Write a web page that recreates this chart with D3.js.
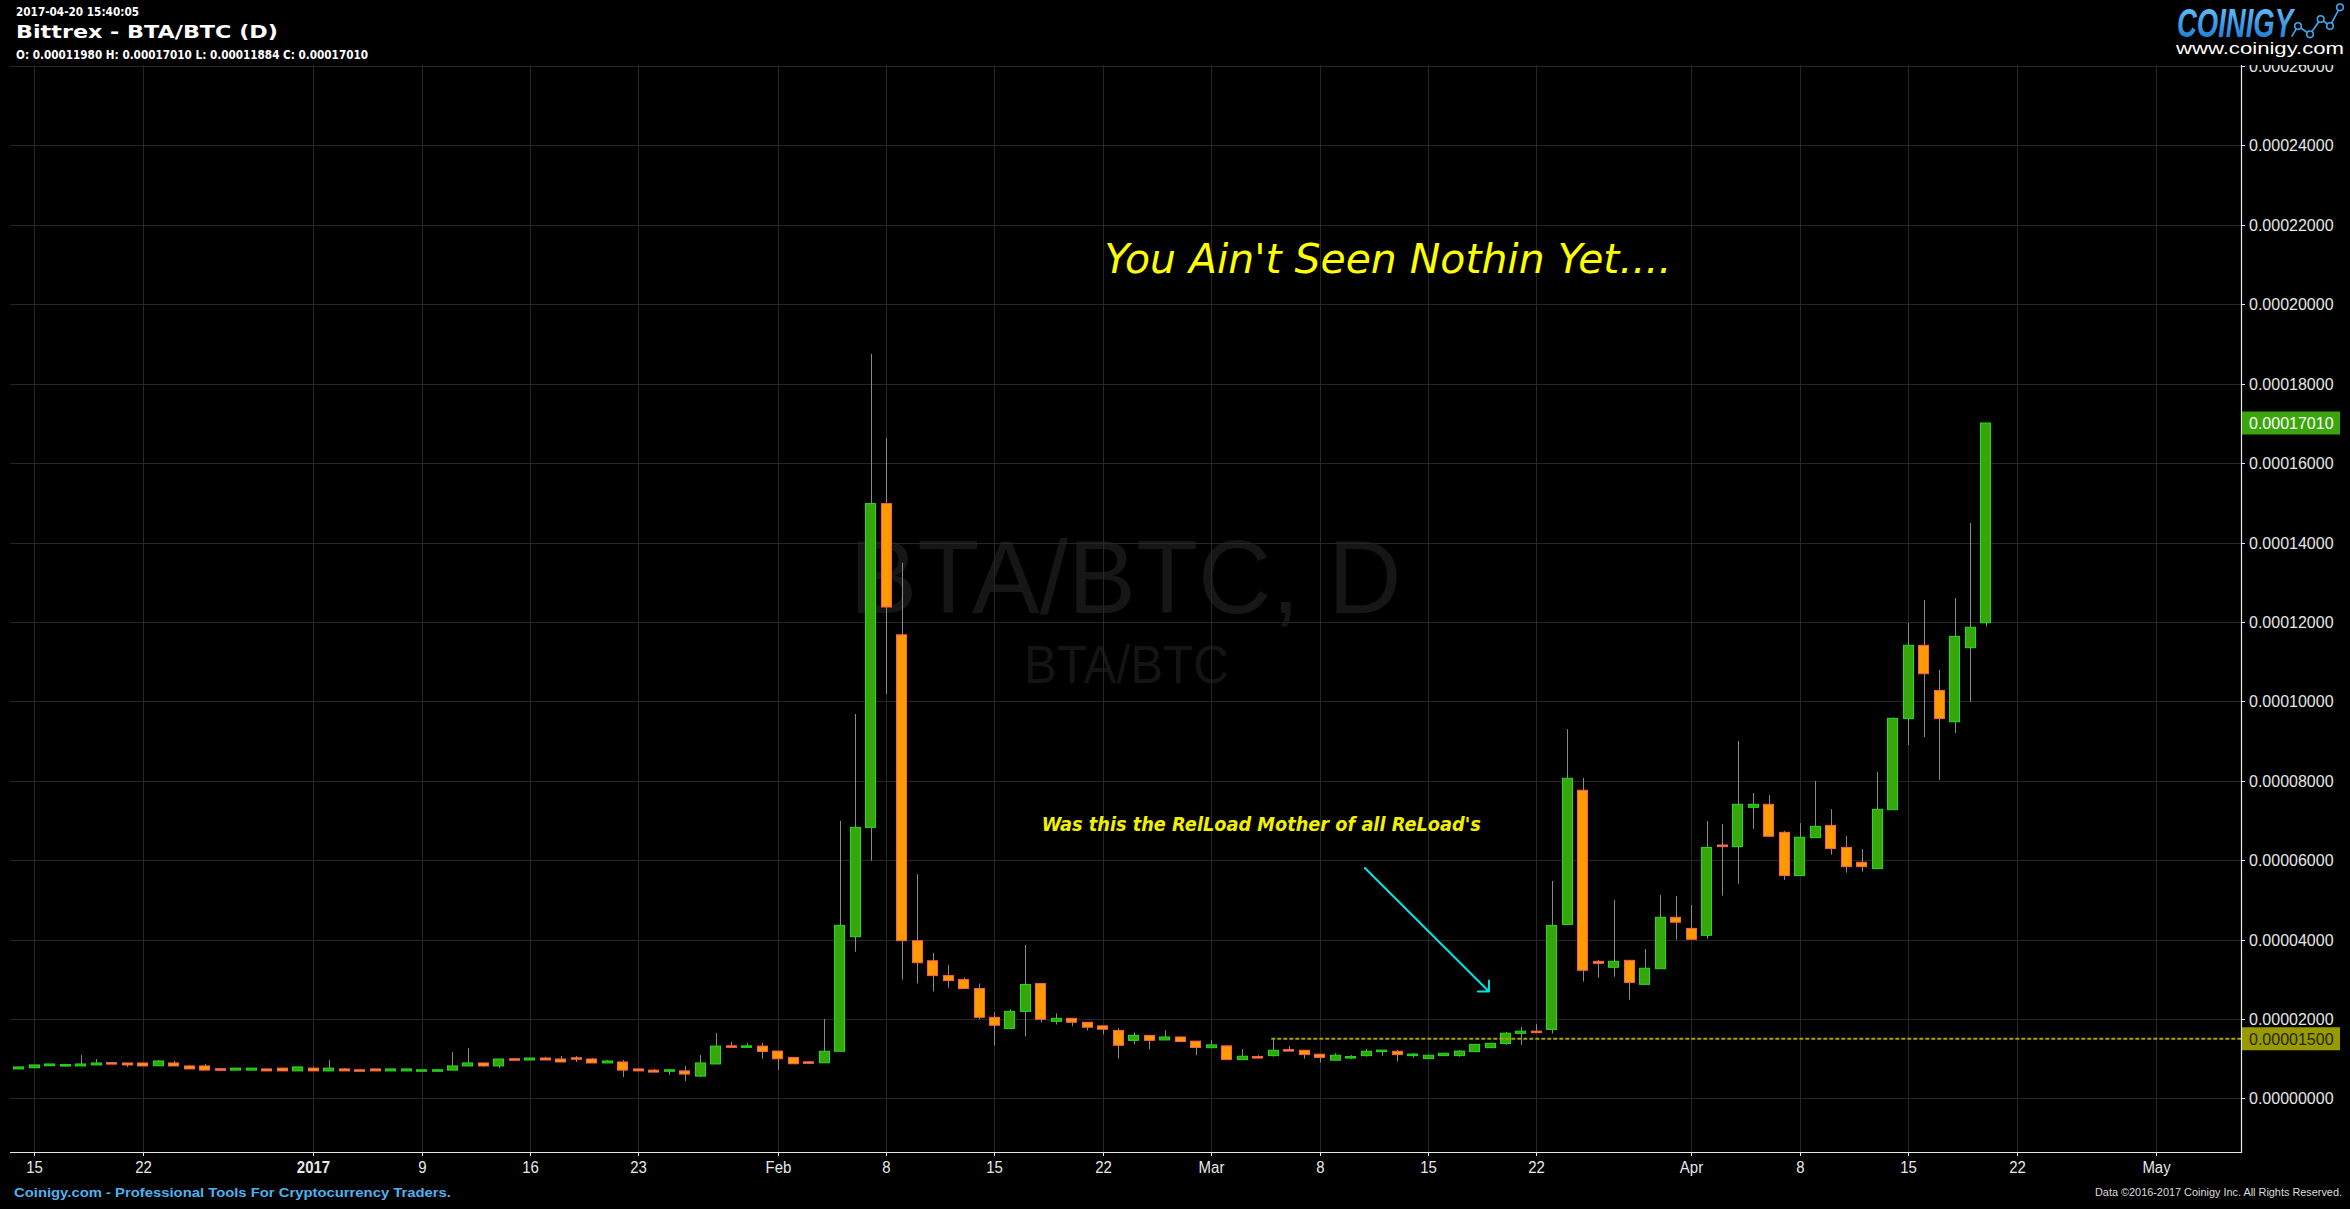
<!DOCTYPE html>
<html><head><meta charset="utf-8">
<script src="https://cdn.jsdelivr.net/npm/d3@7/dist/d3.min.js"></script>
<style>html,body{margin:0;padding:0;background:#000;overflow:hidden}</style>
</head><body>
<svg id="c" width="2350" height="1209"></svg>
<script>
// ---------------- DATA ----------------
const dates = [
"2016-12-14","2016-12-15","2016-12-16","2016-12-17","2016-12-18","2016-12-19","2016-12-20","2016-12-21","2016-12-22","2016-12-23",
"2016-12-24","2016-12-25","2016-12-26","2016-12-27","2016-12-28","2016-12-29","2016-12-30","2016-12-31",
"2017-01-01","2017-01-02","2017-01-03","2017-01-04","2017-01-05","2017-01-06","2017-01-07","2017-01-08","2017-01-09","2017-01-10",
"2017-01-11","2017-01-12","2017-01-13","2017-01-14","2017-01-15","2017-01-16","2017-01-17","2017-01-18","2017-01-19","2017-01-20",
"2017-01-21","2017-01-22","2017-01-23","2017-01-24","2017-01-25","2017-01-26","2017-01-27","2017-01-28","2017-01-29","2017-01-30","2017-01-31",
"2017-02-01","2017-02-02","2017-02-03","2017-02-04","2017-02-05","2017-02-06","2017-02-07","2017-02-08","2017-02-09","2017-02-10",
"2017-02-11","2017-02-12","2017-02-13","2017-02-14","2017-02-15","2017-02-16","2017-02-17","2017-02-18","2017-02-19","2017-02-20",
"2017-02-21","2017-02-22","2017-02-23","2017-02-24","2017-02-25","2017-02-26","2017-02-27","2017-02-28",
"2017-03-01","2017-03-02","2017-03-03","2017-03-04","2017-03-05","2017-03-06","2017-03-07","2017-03-08","2017-03-09","2017-03-10",
"2017-03-11","2017-03-12","2017-03-13","2017-03-14","2017-03-15","2017-03-16","2017-03-17","2017-03-18","2017-03-19","2017-03-20",
"2017-03-21","2017-03-22","2017-03-23","2017-03-24","2017-03-25","2017-03-26","2017-03-27","2017-03-28","2017-03-29","2017-03-30","2017-03-31",
"2017-04-01","2017-04-02","2017-04-03","2017-04-04","2017-04-05","2017-04-06","2017-04-07","2017-04-08","2017-04-09","2017-04-10",
"2017-04-11","2017-04-12","2017-04-13","2017-04-14","2017-04-15","2017-04-16","2017-04-17","2017-04-18","2017-04-19","2017-04-20"
];
const openP = [
0.0000074,0.0000077,0.0000082,0.0000082,0.00000815,0.0000084,0.0000089,0.0000089,0.0000089,0.0000082,
0.0000089,0.00000815,0.00000815,0.0000074,0.0000071,0.0000071,0.0000074,0.0000076,0.0000069,0.0000076,
0.0000069,0.0000074,0.0000071,0.0000074,0.0000069,0.0000069,0.0000069,0.0000069,0.0000071,0.00000815,
0.0000089,0.00000815,0.0000099,0.00000965,0.00001015,0.0000099,0.00001015,0.0000099,0.0000089,0.00000915,
0.0000074,0.0000071,0.0000069,0.0000069,0.0000056,0.00000865,0.00001315,0.0000129,0.00001315,0.0000119,
0.0000103,0.0000091,0.00000895,0.00001185,0.0000407,0.00006825,0.0001498,0.00011675,0.0000397,0.00003465,
0.0000309,0.0000299,0.00002765,0.0000204,0.0000176,0.0000219,0.0000289,0.0000194,0.00002015,0.00001915,
0.00001825,0.0000171,0.0000146,0.00001585,0.0000147,0.00001545,0.0000144,0.00001275,0.0000132,0.00000975,
0.0000104,0.00001075,0.00001215,0.0000121,0.0000111,0.0000096,0.00001025,0.00001075,0.00001175,0.00001185,
0.00001075,0.00001,0.00001075,0.00001075,0.00001175,0.00001275,0.0000138,0.00001635,0.0000169,0.00001735,
0.0000438,0.0000776,0.0000345,0.000033,0.00003475,0.0000287,0.00003265,0.0000456,0.0000428,0.00004105,
0.0000638,0.0000634,0.0000733,0.00007405,0.000067,0.0000561,0.00006565,0.00006875,0.0000632,0.00005945,
0.00005785,0.0000727,0.00009565,0.0001141,0.00010275,0.00009485,0.0001135,0.0001198
];
const highP = [
0.0000079,0.0000084,0.00000865,0.00000865,0.0000109,0.0000099,0.00000915,0.0000089,0.0000089,0.00000965,
0.0000094,0.0000084,0.00000865,0.0000076,0.0000076,0.0000076,0.0000074,0.0000076,0.0000079,0.0000079,
0.00000965,0.0000076,0.0000074,0.0000074,0.0000074,0.0000074,0.0000071,0.0000074,0.00001165,0.00001265,
0.0000089,0.0000099,0.0000099,0.00001015,0.0000104,0.00001065,0.00001065,0.00001015,0.00000965,0.00000965,
0.0000074,0.0000074,0.0000071,0.00000815,0.0000109,0.00001645,0.0000142,0.0000139,0.00001395,0.0000119,
0.0000104,0.00000935,0.00002,0.0000699,0.0000968,0.0001875,0.00016635,0.0001349,0.00005645,0.00003665,
0.00003365,0.0000304,0.0000289,0.00002165,0.0000224,0.00003865,0.0000289,0.0000214,0.00002015,0.00001915,
0.00001825,0.00001765,0.0000166,0.00001585,0.00001715,0.00001545,0.0000144,0.0000147,0.00001345,0.0000124,
0.00001085,0.00001485,0.00001315,0.0000121,0.0000111,0.00001135,0.0000109,0.00001235,0.00001215,0.00001215,
0.0000114,0.00001085,0.00001135,0.00001215,0.0000136,0.00001385,0.0000167,0.000018,0.0000187,0.00005475,
0.000093,0.0000807,0.00003485,0.00004995,0.00003475,0.0000376,0.0000512,0.00005095,0.0000487,0.00006985,
0.0000691,0.00009,0.0000769,0.0000764,0.00006735,0.0000693,0.00007995,0.00007285,0.00006605,0.0000628,
0.0000822,0.00009595,0.0001197,0.0001255,0.0001079,0.000126,0.0001449,0.0001701
];
const lowP = [
0.00000735,0.0000077,0.0000082,0.0000081,0.00000815,0.0000084,0.0000087,0.0000079,0.00000815,0.0000082,
0.00000815,0.0000074,0.0000071,0.0000071,0.0000071,0.0000071,0.0000069,0.0000069,0.0000069,0.0000069,
0.0000069,0.0000069,0.0000069,0.0000069,0.0000069,0.0000069,0.0000069,0.0000069,0.0000071,0.00000815,
0.0000079,0.0000076,0.00000965,0.00000965,0.00000965,0.00000915,0.00000915,0.0000089,0.0000089,0.00000535,
0.0000069,0.0000066,0.00000585,0.00000435,0.00000535,0.00000865,0.0000129,0.0000129,0.00000995,0.00000715,
0.00000865,0.0000086,0.00000895,0.00001185,0.0000369,0.00005985,0.0001018,0.0000299,0.0000289,0.0000269,
0.0000279,0.00002765,0.0000199,0.00001335,0.0000176,0.0000156,0.00001915,0.0000186,0.00001815,0.0000171,
0.0000161,0.00001,0.0000136,0.00001235,0.0000147,0.0000143,0.00001085,0.0000126,0.00000975,0.00000975,
0.00001025,0.0000105,0.000012,0.00001,0.000009,0.0000096,0.0000099,0.0000105,0.00001065,0.00000925,
0.00001025,0.00001,0.00001075,0.0000105,0.00001175,0.00001275,0.0000135,0.0000135,0.00001655,0.0000163,
0.0000438,0.0000294,0.0000304,0.00003065,0.00002485,0.0000287,0.00003265,0.00004,0.00004005,0.0000402,
0.00005105,0.00005405,0.0000679,0.000066,0.000055,0.0000561,0.00006565,0.00006135,0.00005685,0.0000571,
0.00005785,0.0000727,0.000089,0.000091,0.0000802,0.000092,0.0000998,0.00011884
];
const closeP = [
0.0000079,0.0000084,0.00000865,0.0000084,0.00000865,0.0000089,0.0000087,0.0000084,0.00000815,0.0000094,
0.00000815,0.0000074,0.0000071,0.0000071,0.0000076,0.0000076,0.0000069,0.0000069,0.0000079,0.0000069,
0.0000076,0.0000069,0.0000069,0.0000069,0.0000074,0.0000074,0.0000071,0.0000071,0.00000815,0.0000089,
0.00000815,0.0000099,0.00000965,0.00001015,0.00000965,0.00000915,0.0000099,0.0000089,0.0000094,0.0000071,
0.0000069,0.0000066,0.0000071,0.0000061,0.0000089,0.00001315,0.0000129,0.00001315,0.0000118,0.00000995,
0.0000087,0.0000089,0.00001185,0.00004355,0.00006825,0.0001498,0.00012375,0.0000397,0.00003415,0.0000309,
0.00002965,0.00002765,0.0000204,0.0000184,0.0000219,0.00002865,0.0000199,0.00002015,0.00001915,0.0000179,
0.0000174,0.00001335,0.00001585,0.0000146,0.00001545,0.0000143,0.0000128,0.00001345,0.00000975,0.0000106,
0.00001025,0.0000121,0.000012,0.000011,0.0000103,0.00001085,0.0000104,0.00001185,0.00001215,0.000011,
0.00001115,0.00001085,0.00001135,0.0000119,0.0000136,0.00001385,0.0000164,0.0000169,0.00001655,0.00004355,
0.0000806,0.00003225,0.000034,0.0000345,0.0000292,0.00003275,0.0000456,0.00004435,0.00004005,0.0000632,
0.0000634,0.00007405,0.00007405,0.000066,0.0000561,0.00006575,0.0000685,0.0000629,0.00005835,0.00005835,
0.0000728,0.0000957,0.0001141,0.00010695,0.00009565,0.00011635,0.00011865,0.0001701
];
const yTicks = [0,0.00002,0.00004,0.00006,0.00008,0.0001,0.00012,0.00014,0.00016,0.00018,0.0002,0.00022,0.00024,0.00026];
const xTickDates = ["2016-12-15","2016-12-22","2017-01-02","2017-01-09","2017-01-16","2017-01-23","2017-02-01","2017-02-08","2017-02-15","2017-02-22",
  "2017-03-01","2017-03-08","2017-03-15","2017-03-22","2017-04-01","2017-04-08","2017-04-15","2017-04-22","2017-05-01"];
const xTickLabels = ["15","22","2017","9","16","23","Feb","8","15","22","Mar","8","15","22","Apr","8","15","22","May"];
const xTickBold = ["2017"];
const hLine = {start:"2017-03-04T21:00:00Z", value:0.000015};
const arrowPts = [["2017-03-10T22:05:00Z",0.000058],["2017-03-18T22:20:00Z",0.0000269]];
const note1 = {text:"You Ain't Seen Nothin Yet....", date:"2017-02-22T02:24:00Z", value:0.0002078};
const note2 = {text:"Was this the RelLoad Mother of all ReLoad's", date:"2017-02-18T01:12:00Z", value:0.0000673};
const headerLines = ["2017-04-20 15:40:05","Bittrex - BTA/BTC (D)","O: 0.00011980 H: 0.00017010 L: 0.00011884 C: 0.00017010"];

// ---------------- LAYOUT ----------------
const L = 10, R = 2241, T = 65, B = 1152;
const svg = d3.select("#c");
svg.append("rect").attr("width",2350).attr("height",1209).attr("fill","#000");

const x = d3.scaleUtc().domain([new Date("2016-12-14"), new Date("2017-05-01")]).range([18.9, 2155.9]);
const y = d3.scaleLinear().domain([0, 0.00026]).range([1098.3, 66.1]);

const data = dates.map((d,i)=>({date:new Date(d), o:openP[i], h:highP[i], l:lowP[i], c:closeP[i]}));

const defs = svg.append("defs");
defs.append("clipPath").attr("id","plot").append("rect").attr("x",L).attr("y",T).attr("width",R-L).attr("height",B-T);
defs.append("clipPath").attr("id","axisclip").append("rect").attr("x",R).attr("y",T).attr("width",2350-R).attr("height",1209-T);
const grad = defs.append("linearGradient").attr("id","logoGrad").attr("x1",0).attr("y1",0).attr("x2",0).attr("y2",1);
grad.append("stop").attr("offset","0%").attr("stop-color","#6cc8ff");
grad.append("stop").attr("offset","100%").attr("stop-color","#1673cc");

const plot = svg.append("g").attr("clip-path","url(#plot)");

// watermark
const cx = (L+R)/2;
plot.append("text").attr("x",cx).attr("y",613).attr("text-anchor","middle")
  .attr("font-family","Liberation Sans, Arial, sans-serif").attr("font-size",103).attr("fill","#161616")
  .attr("textLength",552).attr("lengthAdjust","spacingAndGlyphs").text("BTA/BTC, D");
plot.append("text").attr("x",cx+1).attr("y",683).attr("text-anchor","middle")
  .attr("font-family","Liberation Sans, Arial, sans-serif").attr("font-size",54).attr("fill","#141414")
  .attr("textLength",205).attr("lengthAdjust","spacingAndGlyphs").text("BTA/BTC");

// grid
const grid = plot.append("g").attr("stroke","#262626").attr("stroke-width",1);
yTicks.forEach(v=>{ const yy = Math.round(y(v))+0.5;
  grid.append("line").attr("x1",L).attr("x2",R).attr("y1",yy).attr("y2",yy); });
xTickDates.forEach(d=>{ const xx = Math.round(x(new Date(d)))+0.5;
  grid.append("line").attr("x1",xx).attr("x2",xx).attr("y1",T).attr("y2",B); });

// candles
const dayW = x(new Date("2016-12-15")) - x(new Date("2016-12-14"));
const bw = Math.round(dayW*0.69);
const cg = plot.append("g");
cg.selectAll("line.w").data(data).join("line").attr("class","w")
  .attr("x1",d=>Math.round(x(d.date))+0.5).attr("x2",d=>Math.round(x(d.date))+0.5)
  .attr("y1",d=>y(d.h)).attr("y2",d=>y(d.l)).attr("stroke","#8a8a8a").attr("stroke-width",1);
cg.selectAll("rect.b").data(data).join("rect").attr("class","b")
  .attr("x",d=>Math.round(x(d.date)-bw/2)+0.5)
  .attr("width",bw-1)
  .attr("y",d=>{ const t=y(Math.max(d.o,d.c)), b=y(Math.min(d.o,d.c)); return (b-t)<1.5 ? (t+b)/2-0.75 : t; })
  .attr("height",d=>Math.max(1.5, y(Math.min(d.o,d.c))-y(Math.max(d.o,d.c))))
  .attr("fill",d=>d.c>=d.o?"#37a60d":"#ff9a00")
  .attr("stroke",d=>d.c>=d.o?"#1fe01f":"#ff5c5c").attr("stroke-width",1);

// dashed horizontal line
const hy = y(hLine.value);
plot.append("line").attr("x1",x(new Date(hLine.start))).attr("x2",R).attr("y1",hy).attr("y2",hy)
  .attr("stroke","#a6a600").attr("stroke-width",2).attr("stroke-dasharray","4,2");

// arrow
const a0 = [x(new Date(arrowPts[0][0])), y(arrowPts[0][1])];
const a1 = [x(new Date(arrowPts[1][0])), y(arrowPts[1][1])];
const ang = Math.atan2(a0[1]-a1[1], a0[0]-a1[0]);
const wl = 11;
const w1 = [a1[0]+wl*Math.cos(ang+Math.PI/4), a1[1]+wl*Math.sin(ang+Math.PI/4)];
const w2 = [a1[0]+wl*Math.cos(ang-Math.PI/4), a1[1]+wl*Math.sin(ang-Math.PI/4)];
plot.append("path").attr("d",d3.line()([a0,a1]) + "M" + w1 + "L" + a1 + "L" + w2)
  .attr("fill","none").attr("stroke","#00e4e4").attr("stroke-width",2).attr("stroke-linecap","round").attr("stroke-linejoin","round");

// annotations
plot.append("text").attr("x",x(new Date(note1.date))).attr("y",y(note1.value))
  .attr("font-family","DejaVu Sans, Verdana, sans-serif").attr("font-style","italic").attr("font-size",40)
  .attr("fill","#ffff00").attr("textLength",567).attr("lengthAdjust","spacingAndGlyphs").text(note1.text);
plot.append("text").attr("x",x(new Date(note2.date))).attr("y",y(note2.value))
  .attr("font-family","DejaVu Sans, Verdana, sans-serif").attr("font-style","italic").attr("font-weight","bold").attr("font-size",20)
  .attr("fill","#f0f000").attr("textLength",439).attr("lengthAdjust","spacingAndGlyphs").text(note2.text);

// x axis
svg.append("line").attr("x1",L).attr("x2",R+0.5).attr("y1",B+0.5).attr("y2",B+0.5).attr("stroke","#e8e8e8").attr("stroke-width",1.2);
const xa = svg.append("g");
xTickDates.forEach((d,i)=>{
  const xx = Math.round(x(new Date(d)))+0.5;
  xa.append("line").attr("x1",xx).attr("x2",xx).attr("y1",B).attr("y2",B+4).attr("stroke","#e8e8e8");
  xa.append("text").attr("transform",`translate(${xx},1173) scale(0.88,1)`).attr("text-anchor","middle")
    .attr("font-family","Liberation Sans, Arial, sans-serif").attr("font-size",17)
    .attr("font-weight",xTickBold.includes(xTickLabels[i])?"bold":"normal")
    .attr("fill","#e8e8e8").text(xTickLabels[i]);
});

// y axis (right)
svg.append("line").attr("x1",R+0.5).attr("x2",R+0.5).attr("y1",T).attr("y2",B+1).attr("stroke","#e8e8e8").attr("stroke-width",1.2);
const ya = svg.append("g").attr("clip-path","url(#axisclip)");
yTicks.forEach(v=>{
  const yy = Math.round(y(v))+0.5;
  ya.append("line").attr("x1",R).attr("x2",R+4).attr("y1",yy).attr("y2",yy).attr("stroke","#e8e8e8");
  ya.append("text").attr("x",2249).attr("y",yy).attr("dy","0.36em")
    .attr("font-family","Liberation Sans, Arial, sans-serif").attr("font-size",16).attr("fill","#e6e6e6")
    .text(v.toFixed(8));
});
// price tags
function tag(v, fill, color){
  const yy = y(v);
  ya.append("rect").attr("x",R+1).attr("y",yy-11.5).attr("width",98).attr("height",23).attr("fill",fill);
  ya.append("text").attr("x",2249).attr("y",yy).attr("dy","0.36em")
    .attr("font-family","Liberation Sans, Arial, sans-serif").attr("font-size",16).attr("fill",color).text(v.toFixed(8));
}
tag(closeP[closeP.length-1], "#3aa60c", "#ffffff");
tag(hLine.value, "#999900", "#262600");

// header
const hf = "DejaVu Sans, Verdana, sans-serif";
svg.append("text").attr("x",16).attr("y",15.7).attr("font-family",hf).attr("font-weight","bold").attr("font-size",11.5)
  .attr("fill","#fff").attr("textLength",123).attr("lengthAdjust","spacingAndGlyphs").text(headerLines[0]);
svg.append("text").attr("x",16).attr("y",37.7).attr("font-family",hf).attr("font-weight","bold").attr("font-size",18)
  .attr("fill","#fff").attr("textLength",262).attr("lengthAdjust","spacingAndGlyphs").text(headerLines[1]);
svg.append("text").attr("x",16).attr("y",59.3).attr("font-family",hf).attr("font-weight","bold").attr("font-size",11.8)
  .attr("fill","#fff").attr("textLength",352).attr("lengthAdjust","spacingAndGlyphs").text(headerLines[2]);

// logo
const logo = svg.append("g");
logo.append("text").attr("x",2177).attr("y",36.5).attr("font-family","Liberation Sans, Arial, sans-serif")
  .attr("font-weight","bold").attr("font-style","italic").attr("font-size",40).attr("fill","url(#logoGrad)")
  .attr("textLength",116).attr("lengthAdjust","spacingAndGlyphs").text("COINIGY");
const lp = [[2291.7,36.7],[2298,26],[2310,34.3],[2320.7,19],[2330,26],[2340,7.3]];
logo.append("path").attr("d",d3.line()(lp)).attr("fill","none").attr("stroke","#3ea6ee").attr("stroke-width",1.6);
lp.slice(1).forEach(p=>logo.append("circle").attr("cx",p[0]).attr("cy",p[1]).attr("r",3.3)
  .attr("fill","#000").attr("stroke","#3ea6ee").attr("stroke-width",1.6));
logo.append("text").attr("x",2176).attr("y",54).attr("font-family","Liberation Sans, Arial, sans-serif")
  .attr("font-size",16).attr("fill","#fff").attr("textLength",168).attr("lengthAdjust","spacingAndGlyphs").text("www.coinigy.com");

// footer
svg.append("text").attr("x",14).attr("y",1197).attr("font-family","Liberation Sans, Arial, sans-serif")
  .attr("font-weight","bold").attr("font-size",13).attr("fill","#4fb2ee")
  .attr("textLength",437).attr("lengthAdjust","spacingAndGlyphs").text("Coinigy.com - Professional Tools For Cryptocurrency Traders.");
svg.append("text").attr("x",2095).attr("y",1196).attr("font-family","Liberation Sans, Arial, sans-serif")
  .attr("font-size",10).attr("fill","#dddddd")
  .attr("textLength",247).attr("lengthAdjust","spacingAndGlyphs").text("Data \u00a92016-2017 Coinigy Inc. All Rights Reserved.");
</script>
</body></html>
